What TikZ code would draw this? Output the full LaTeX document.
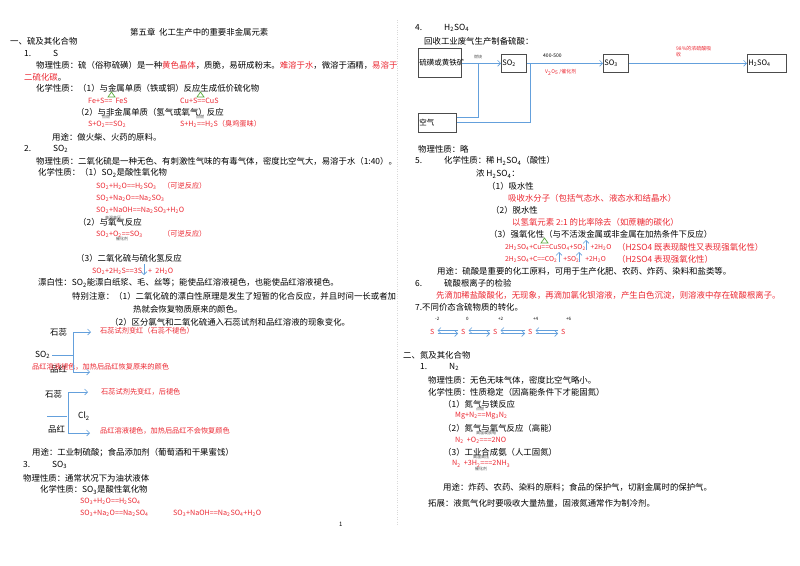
\documentclass[tikz,border=0pt]{standalone}
\usepackage{fontspec}
\setmainfont{Noto Sans CJK SC}
\usetikzlibrary{arrows.meta}
\definecolor{rd}{RGB}{236,40,50}
\definecolor{bl}{RGB}{100,160,220}
\definecolor{gr}{RGB}{90,170,60}
\newcommand\sbx[1]{\textsubscript{#1}}
\newcommand\rr[1]{\textcolor{rd}{#1}}
\begin{document}
\begin{tikzpicture}[x=1pt,y=-1pt,
 txt/.style={anchor=west,inner sep=0pt,font=\fontsize{8.4}{10}\selectfont},
 red/.style={txt,text=rd,font=\fontsize{7.2}{9}\selectfont},
 tiny/.style={anchor=west,inner sep=0pt,font=\fontsize{4}{5}\selectfont,text=black!70},
 box/.style={draw=black!70,line width=0.6pt,anchor=north west,inner sep=1pt,align=left,font=\fontsize{7.5}{9}\selectfont,text width=#1},
 ar/.style={draw=bl,line width=0.6pt,-{Straight Barb[length=3pt]}},
 ln/.style={draw=bl,line width=0.6pt},
 tri/.style={draw=gr,line width=0.7pt}]
\useasboundingbox (0,0) rectangle (800,565);
\fill[white] (0,0) rectangle (800,565);
\draw[black!15,dotted] (397,20) -- (397,525);
% ---------- left column
\node[txt] (a1) at (130,32) {第五章\ \ 化工生产中的重要非金属元素};
\node[txt] (a2) at (10,41) {一、硫及其化合物};
\node[txt] (a3) at (24,53) {1.\hspace{22pt}S};
\node[txt] (a4) at (36,65) {物理性质：硫（俗称硫磺）是一种\rr{黄色晶体}，质脆，易研成粉末。\rr{难溶于水}，微溶于酒精，\rr{易溶于}};
\node[txt] (a5) at (24,77) {\rr{二硫化碳}。};
\node[txt] (a6) at (36,88) {化学性质：（1）与金属单质（铁或铜）反应生成低价硫化物};
\node[red] (a7) at (88,101) {Fe+S==\ \ FeS};
\node[red] (a8) at (180,101) {Cu+S==CuS};
\draw[tri] (108,97) -- (111.5,92) -- (115,97) -- cycle;
\draw[tri] (197,97) -- (200.5,92) -- (204,97) -- cycle;
\node[txt] (a9) at (76,112) {（2）与非金属单质（氢气或氧气）反应};
\node[tiny] (a10) at (102,117) {点燃};
\node[tiny] (a11) at (196,117) {点燃};
\node[red] (a12) at (88,124) {S+O\sbx2==SO\sbx2};
\node[red] (a13) at (180,124) {S+H\sbx2==H\sbx2S（臭鸡蛋味）};
\node[txt] (a14) at (52,137) {用途：做火柴、火药的原料。};
\node[txt] (a15) at (24,149) {2.\hspace{22pt}SO\sbx2};
\node[txt] (a16) at (36,161) {物理性质：二氧化硫是一种无色、有刺激性气味的有毒气体，密度比空气大，易溶于水（1:40）。};
\node[txt] (a17) at (38,173) {化学性质：（1）SO\sbx2是酸性氧化物};
\node[red] (a18) at (96,186) {SO\sbx2+H\sbx2O==H\sbx2SO\sbx3};
\node[red] (a19) at (163,186) {（可逆反应）};
\node[red] (a20) at (96,198) {SO\sbx2+Na\sbx2O==Na\sbx2SO\sbx3};
\node[red] (a21) at (96,210) {SO\sbx2+NaOH==Na\sbx2SO\sbx3+H\sbx2O};
\node[txt] (a22) at (78,222) {（2）与氧气反应};
\node[tiny] (a23) at (105,218) {高温高压};
\node[red] (a24) at (96,234) {SO\sbx2+O\sbx2==SO\sbx3};
\node[tiny] (a25) at (116,239) {催化剂};
\node[red] (a26) at (163,234) {（可逆反应）};
\node[txt] (a27) at (76,258) {（3）二氧化硫与硫化氢反应};
\node[red] (a28) at (92,271) {SO\sbx2+2H\sbx2S==3S\hspace{6pt}+\ \ 2H\sbx2O};
\coordinate (d1) at (144,264); \coordinate (d2) at (144,275);
\draw[ar] (d1) -- (d2);
\node[txt] (a29) at (38,283) {漂白性：SO\sbx2能漂白纸浆、毛、丝等；能使品红溶液褪色，也能使品红溶液褪色。};
\node[txt] (a30) at (72,296) {特别注意：（1）二氧化硫的漂白性原理是发生了短暂的化合反应，并且时间一长或者加};
\node[txt] (a31) at (133,309) {热就会恢复物质原来的颜色。};
\node[txt] (a32) at (110,322) {（2）区分氯气和二氧化硫通入石蕊试剂和品红溶液的现象变化。};
% SO2 diagram
\node[txt] (b1) at (50,332) {石蕊};
\node[red] (b2) at (100,331) {石蕊试剂变红（石蕊不褪色）};
\node[txt] (b3) at (35,355) {SO\sbx2};
\node[txt] (b4) at (50,369) {品红};
\node[red] (b5) at (32,367) {品红溶液褪色，加热后品红恢复原来的颜色};
\coordinate (c1) at (73,332); \coordinate (c2) at (91,332);
\coordinate (c3) at (73,372); \coordinate (c4) at (90,372);
\coordinate (c5) at (52,355); \coordinate (c6) at (73,355);
\draw[ln] (c3) -- (c1); \draw[ar] (c1) -- (c2); \draw[ar] (c3) -- (c4); \draw[ln] (c5) -- (c6);
% Cl2 diagram
\node[txt] (b6) at (45,394) {石蕊};
\node[red] (b7) at (101,392) {石蕊试剂先变红，后褪色};
\node[txt] (b8) at (78,416) {Cl\sbx2};
\node[txt] (b9) at (48,429) {品红};
\node[red] (b10) at (100,431) {品红溶液褪色，加热后品红不会恢复颜色};
\coordinate (e1) at (68,392); \coordinate (e2) at (88,392);
\coordinate (e3) at (68,433); \coordinate (e4) at (90,433);
\coordinate (e5) at (47,416); \coordinate (e6) at (67,416);
\draw[ln] (e3) -- (e1); \draw[ar] (e1) -- (e2); \draw[ar] (e3) -- (e4); \draw[ln] (e5) -- (e6);
\node[txt] (a33) at (32,453) {用途：工业制硫酸；食品添加剂（葡萄酒和干果蜜饯）};
\node[txt] (a34) at (23,465) {3.\hspace{22pt}SO\sbx3};
\node[txt] (a35) at (23,478) {物理性质：通常状况下为油状液体};
\node[txt] (a36) at (40,490) {化学性质：SO\sbx3是酸性氧化物};
\node[red] (a37) at (80,501) {SO\sbx3+H\sbx2O==H\sbx2SO\sbx4};
\node[red] (a38) at (80,513) {SO\sbx3+Na\sbx2O==Na\sbx2SO\sbx4};
\node[red] (a39) at (173,513) {SO\sbx3+NaOH==Na\sbx2SO\sbx4+H\sbx2O};
\node[txt,font=\fontsize{6}{7}\selectfont] (a40) at (339,524) {1};
% ---------- right column
\node[txt] (r1) at (415,28) {4.\hspace{22pt}H\sbx2SO\sbx4};
\node[txt] (r2) at (424,41) {回收工业废气生产制备硫酸：};
\node[box=41pt,minimum height=29pt] (k1) at (418,48) {硫磺或黄铁矿};
\node[box=23pt,minimum height=18pt] (k2) at (501,54) {SO\sbx2};
\node[box=23pt,minimum height=18pt] (k3) at (603,54) {SO\sbx3};
\node[box=37pt,minimum height=18pt] (k4) at (747,54) {H\sbx2SO\sbx4};
\node[box=36pt,minimum height=19pt] (k5) at (418,113) {空气};
\node[tiny] (r3) at (474,57) {燃烧};
\node[tiny,font=\fontsize{5}{6}\selectfont,text=black] (r4) at (543,56) {400-500};
\node[red,font=\fontsize{5}{6}\selectfont] (r5) at (545,72) {V\sbx2O\sbx5 /催化剂};
\node[red,font=\fontsize{5}{6}\selectfont,align=left,anchor=north west] (r6) at (676,46) {98\%的浓硫酸吸\\收};
\coordinate (f1) at (478,63); \coordinate (f2) at (478,117); \coordinate (f3) at (530,63); \coordinate (f4) at (530,122);
\draw[ar] (k1.east|-k2.west) -- (k2.west);
\draw[ln] (k5.east|-f2) -- (f2) -- (f1);
\draw[ln] (k5.east|-f4) -- (f4) -- (f3);
\draw[ar] (k2.east) -- (k3.west);
\draw[ar] (k3.east) -- (k4.west);
\node[txt] (r7) at (418,149) {物理性质：略};
\node[txt] (r8) at (415,161) {5.\hspace{22pt}化学性质：稀 H\sbx2SO\sbx4（酸性）};
\node[txt] (r9) at (476,174) {浓 H\sbx2SO\sbx4：};
\node[txt] (r10) at (487,186) {（1）吸水性};
\node[txt,text=rd] (r11) at (508,198) {吸收水分子（包括气态水、液态水和结晶水）};
\node[txt] (r12) at (491,210) {（2）脱水性};
\node[txt,text=rd] (r13) at (512,222) {以氢氧元素 2:1 的比率除去（如蔗糖的碳化）};
\node[txt] (r14) at (489,234) {（3）强氧化性（与不活泼金属或非金属在加热条件下反应）};
\node[red,font=\fontsize{6.8}{8}\selectfont] (r15) at (505,247) {2H\sbx2SO\sbx4+Cu==CuSO\sbx4+SO\sbx2\hspace{5pt}+2H\sbx2O};
\node[txt,text=rd] (r16) at (617,247) {（H2SO4 既表现酸性又表现强氧化性）};
\draw[tri] (541,243) -- (544.5,238) -- (548,243) -- cycle;
\coordinate (g1) at (586,250); \coordinate (g2) at (586,240);
\draw[ar] (g1) -- (g2);
\node[red,font=\fontsize{6.8}{8}\selectfont] (r17) at (505,259) {2H\sbx2SO\sbx4+C==CO\sbx2\hspace{6pt}+SO\sbx2\hspace{6pt}+2H\sbx2O};
\node[txt,text=rd] (r18) at (617,259) {（H2SO4 表现强氧化性）};
\coordinate (g3) at (559,262); \coordinate (g4) at (559,252);
\coordinate (g5) at (579,262); \coordinate (g6) at (579,252);
\draw[ar] (g3) -- (g4); \draw[ar] (g5) -- (g6);
\node[txt] (r19) at (437,271) {用途：硫酸是重要的化工原料，可用于生产化肥、农药、炸药、染料和盐类等。};
\node[txt] (r20) at (415,283) {6.\hspace{22pt}硫酸根离子的检验};
\node[txt,text=rd] (r21) at (436,295) {先滴加稀盐酸酸化，无现象，再滴加氯化钡溶液，产生白色沉淀，则溶液中存在硫酸根离子。};
\node[txt] (r22) at (415,307) {7.不同价态含硫物质的转化。};
\foreach \i/\x/\v in {1/430/-2,2/461/0,3/493/+2,4/528/+4,5/561/+6}{
  \node[red,font=\fontsize{7}{8}\selectfont] (s\i) at (\x,332) {S};
  \node[tiny,text=black,font=\fontsize{4.5}{5}\selectfont] (v\i) at (\x+5,319) {\v};
}
\foreach \a/\b in {1/2,2/3,3/4,4/5}{
  \draw[ar] ([xshift=3pt,yshift=-1.5pt]s\a.east) -- ([xshift=-3pt,yshift=-1.5pt]s\b.west);
  \draw[ar] ([xshift=-3pt,yshift=1.5pt]s\b.west) -- ([xshift=3pt,yshift=1.5pt]s\a.east);
}
\node[txt] (n1) at (403,355) {二、氮及其化合物};
\node[txt] (n2) at (420,367) {1.\hspace{22pt}N\sbx2};
\node[txt] (n3) at (428,380) {物理性质：无色无味气体，密度比空气略小。};
\node[txt] (n4) at (428,392) {化学性质：性质稳定（因高能条件下才能固氮）};
\node[txt] (n5) at (443,404) {（1）氮气与镁反应};
\node[tiny] (n6) at (476,409) {点燃};
\node[red] (n7) at (455,416) {Mg+N\sbx2==Mg\sbx3N\sbx2};
\node[txt] (n8) at (443,428) {（2）氮气与氧气反应（高能）};
\node[tiny] (n9) at (476,433) {高温或放电};
\node[red] (n10) at (455,440) {N\sbx2\ \ +O\sbx2===2NO};
\node[txt] (n11) at (443,452) {（3）工业合成氨（人工固氮）};
\node[tiny] (n12) at (473,457) {高温高压};
\node[red] (n13) at (452,464) {N\sbx2\ \ +3H\sbx2===2NH\sbx3};
\node[tiny] (n14) at (475,469) {催化剂};
\node[txt] (n15) at (443,488) {用途：炸药、农药、染料的原料；食品的保护气，切割金属时的保护气。};
\node[txt] (n16) at (428,503) {拓展：液氮气化时要吸收大量热量，固液氮通常作为制冷剂。};
\end{tikzpicture}
\end{document}
